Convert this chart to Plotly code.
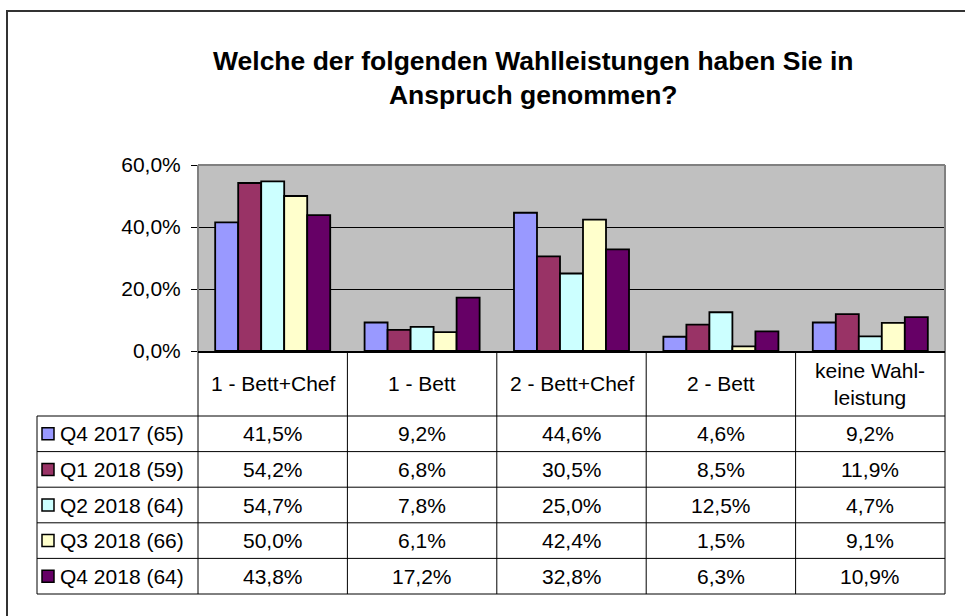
import plotly.graph_objects as go

# ---------------- data ----------------
categories = ["1 - Bett+Chef", "1 - Bett", "2 - Bett+Chef", "2 - Bett", "keine Wahlleistung"]
header_labels = ["1 - Bett+Chef", "1 - Bett", "2 - Bett+Chef", "2 - Bett", "keine Wahl-<br>leistung"]
series_names = ["Q4 2017 (65)", "Q1 2018 (59)", "Q2 2018 (64)", "Q3 2018 (66)", "Q4 2018 (64)"]
q4_2017 = [41.5, 9.2, 44.6, 4.6, 9.2]
q1_2018 = [54.2, 6.8, 30.5, 8.5, 11.9]
q2_2018 = [54.7, 7.8, 25.0, 12.5, 4.7]
q3_2018 = [50.0, 6.1, 42.4, 1.5, 9.1]
q4_2018 = [43.8, 17.2, 32.8, 6.3, 10.9]
series_values = [q4_2017, q1_2018, q2_2018, q3_2018, q4_2018]
y_ticks = [0, 20, 40, 60]
y_tick_labels = ["0,0%", "20,0%", "40,0%", "60,0%"]
title_text = "Welche der folgenden Wahlleistungen haben Sie in<br>Anspruch genommen?"

# ---------------- styles ----------------
colors = ["#9999FF", "#993366", "#CCFFFF", "#FFFFCC", "#660066"]
W, H = 965, 616
FONT = "Liberation Sans, Arial, Helvetica, sans-serif"
FS = 21

def px(x):
    return x / W

def py(y):
    return 1 - y / H

plot_left, plot_right, plot_top, plot_bottom = 198, 945, 165, 351
table_left = 37
col_edges = [198, 347.4, 496.8, 646.2, 795.6, 945]
header_bottom = 416
row_edges = [416, 451.6, 487.2, 522.8, 558.4, 594]

fig = go.Figure()
for name, vals, col in zip(series_names, series_values, colors):
    fig.add_trace(go.Bar(
        x=categories, y=vals, name=name,
        marker=dict(color=col, line=dict(color="black", width=1.8)),
        showlegend=False, hoverinfo="skip",
    ))

shapes = []
annotations = []

# plot area border (gray top, left, right)
for x0, y0, x1, y1 in [(0, 1, 1, 1), (0, 0, 0, 1), (1, 0, 1, 1)]:
    shapes.append(dict(type="line", xref="x domain", yref="y domain",
                       x0=x0, y0=y0, x1=x1, y1=y1,
                       line=dict(color="#808080", width=2), layer="above"))

# outer chart border
shapes.append(dict(type="rect", xref="paper", yref="paper",
                   x0=px(7), y0=py(11), x1=1.05, y1=-0.05,
                   line=dict(color="#333333", width=2), fillcolor="rgba(0,0,0,0)"))

# table lines
line_style = dict(color="black", width=1)
for xe in col_edges:
    shapes.append(dict(type="line", xref="paper", yref="paper",
                       x0=px(xe), x1=px(xe), y0=py(plot_bottom), y1=py(row_edges[-1]),
                       line=line_style))
shapes.append(dict(type="line", xref="paper", yref="paper",
                   x0=px(table_left), x1=px(table_left), y0=py(row_edges[0]), y1=py(row_edges[-1]),
                   line=line_style))
for ye in row_edges:
    shapes.append(dict(type="line", xref="paper", yref="paper",
                       x0=px(table_left), x1=px(col_edges[-1]), y0=py(ye), y1=py(ye),
                       line=line_style))

# header labels
for cat, lab in zip(categories, header_labels):
    annotations.append(dict(x=cat, xref="x", y=py((plot_bottom + header_bottom) / 2), yref="paper",
                            text=lab, showarrow=False, xanchor="center", yanchor="middle",
                            font=dict(family=FONT, size=FS, color="black")))

# rows
for i, (name, vals, col) in enumerate(zip(series_names, series_values, colors)):
    yc = (row_edges[i] + row_edges[i + 1]) / 2
    shapes.append(dict(type="rect", xref="paper", yref="paper",
                       x0=px(42), x1=px(54), y0=py(yc - 6), y1=py(yc + 6),
                       fillcolor=col, line=dict(color="black", width=1.5)))
    annotations.append(dict(x=px(58), xref="paper", y=py(yc), yref="paper",
                            text=name, showarrow=False, xanchor="left", yanchor="middle",
                            font=dict(family=FONT, size=FS, color="black")))
    for cat, v in zip(categories, vals):
        annotations.append(dict(x=cat, xref="x", y=py(yc), yref="paper",
                                text=f"{v:.1f}%".replace(".", ","), showarrow=False,
                                xanchor="center", yanchor="middle",
                                font=dict(family=FONT, size=FS, color="black")))

# title
annotations.append(dict(x=px(533), xref="paper", y=py(78), yref="paper",
                        text=f"<b>{title_text}</b>", showarrow=False,
                        xanchor="center", yanchor="middle",
                        font=dict(family=FONT, size=26.5, color="black")))

fig.update_layout(
    width=W, height=H, autosize=False,
    margin=dict(l=0, r=0, t=0, b=0, pad=0, autoexpand=False),
    paper_bgcolor="white",
    plot_bgcolor="#C0C0C0",
    separators=",.",
    barmode="group", bargap=0.23, bargroupgap=0,
    shapes=shapes, annotations=annotations,
    font=dict(family=FONT, size=FS, color="black"),
    xaxis=dict(domain=[px(plot_left), px(plot_right)], range=[-0.5, 4.5],
               showticklabels=False, ticks="", showgrid=False, zeroline=False,
               showline=True, linecolor="black", linewidth=1.5, fixedrange=True,
               automargin=False),
    yaxis=dict(domain=[py(plot_bottom), py(plot_top)], range=[0, 60],
               tickmode="array", tickvals=y_ticks, ticktext=y_tick_labels,
               ticks="outside", ticklen=6, tickcolor="black", tickwidth=1,
               ticklabelstandoff=6, automargin=False,
               showgrid=True, gridcolor="black", gridwidth=1, zeroline=False,
               showline=False, fixedrange=True,
               tickfont=dict(family=FONT, size=FS, color="black")),
)

fig.write_html("out.html", config={"displayModeBar": False, "responsive": False},
               post_script="document.body.style.margin='0px';document.body.style.overflow='hidden';")
